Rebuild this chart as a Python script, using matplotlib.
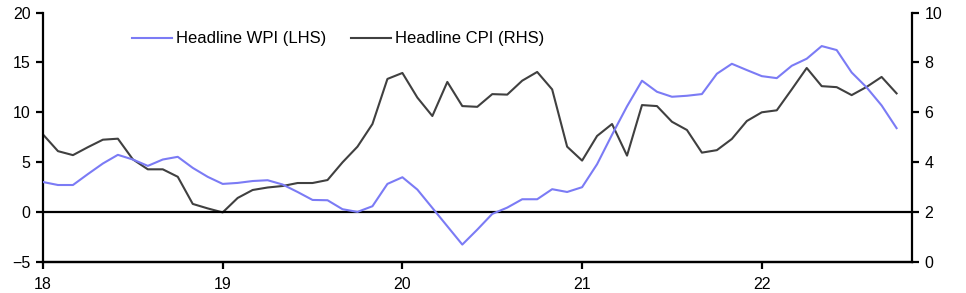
import matplotlib
matplotlib.use("Agg")
import matplotlib.pyplot as plt
import numpy as np

plt.rcParams['font.family'] = ['Liberation Sans', 'DejaVu Sans']

start_year = 18
wpi = [3.0, 2.7, 2.7, 3.8, 4.86, 5.73, 5.26, 4.62, 5.26, 5.53, 4.42, 3.52,
       2.81, 2.91, 3.1, 3.18, 2.75, 2.0, 1.2, 1.17, 0.27, 0.0, 0.57, 2.81,
       3.48, 2.24, 0.4, -1.44, -3.28, -1.78, -0.2, 0.43, 1.27, 1.27, 2.28, 2.0,
       2.48, 4.79, 7.75, 10.6, 13.17, 12.06, 11.56, 11.66, 11.83, 13.87, 14.87, 14.24,
       13.63, 13.43, 14.67, 15.38, 16.65, 16.25, 14.0, 12.5, 10.69, 8.41]
cpi = [5.11, 4.44, 4.28, 4.6, 4.9, 4.94, 4.11, 3.71, 3.71, 3.41, 2.32, 2.14,
       1.98, 2.56, 2.88, 2.98, 3.04, 3.16, 3.16, 3.28, 3.99, 4.62, 5.53, 7.34,
       7.58, 6.59, 5.85, 7.22, 6.25, 6.22, 6.73, 6.71, 7.27, 7.62, 6.92, 4.62,
       4.06, 5.05, 5.53, 4.26, 6.29, 6.25, 5.62, 5.29, 4.38, 4.48, 4.93, 5.65,
       6.0, 6.08, 6.92, 7.78, 7.05, 7.01, 6.69, 7.02, 7.42, 6.76]
xtick_labels = ["18", "19", "20", "21", "22"]
wpi_label = "Headline WPI (LHS)"
cpi_label = "Headline CPI (RHS)"

x = start_year + np.arange(len(wpi)) / 12.0

fig = plt.figure(figsize=(9.66, 2.93), dpi=100)
ax = fig.add_axes([43/966, 1-261.7/293, (912-43)/966, (261.7-12.7)/293])
ax2 = ax.twinx()

wpi_color = "#7B7BF5"
cpi_color = "#404040"

l1, = ax.plot(x, wpi, color=wpi_color, lw=1.5, label=wpi_label, zorder=3)
l2, = ax2.plot(x, cpi, color=cpi_color, lw=1.5, label=cpi_label, zorder=3)
ax.axhline(0, color="black", lw=1.6, zorder=2)

ax.set_xlim(18, 18 + 58.03/12)
ax.set_ylim(-5, 20)
ax2.set_ylim(0, 10)
ax.set_yticks([-5, 0, 5, 10, 15, 20])
ax2.set_yticks([0, 2, 4, 6, 8, 10])
ax.set_xticks([18, 19, 20, 21, 22])
ax.set_xticklabels(xtick_labels)

for a in (ax, ax2):
    a.spines['top'].set_visible(False)
    for s in ('left', 'right', 'bottom'):
        a.spines[s].set_linewidth(1.6)
        a.spines[s].set_color('black')
    a.tick_params(axis='both', labelsize=11.5, width=1.6, length=5, colors='black', direction='out', pad=4)
ax2.spines['left'].set_visible(False)
ax.spines['right'].set_visible(False)
ax.tick_params(axis='x', pad=6)

leg = ax.legend([l1, l2], [wpi_label, cpi_label], loc='center left',
                bbox_to_anchor=((132-43)/869, (261.7-39)/249), ncol=2, frameon=False, fontsize=12,
                handlelength=2.4, handletextpad=0.24, columnspacing=1.5,
                borderaxespad=0, borderpad=0)
ax.set_zorder(ax2.get_zorder() + 1)
ax.patch.set_visible(False)

fig.savefig("out.png", dpi=100)
